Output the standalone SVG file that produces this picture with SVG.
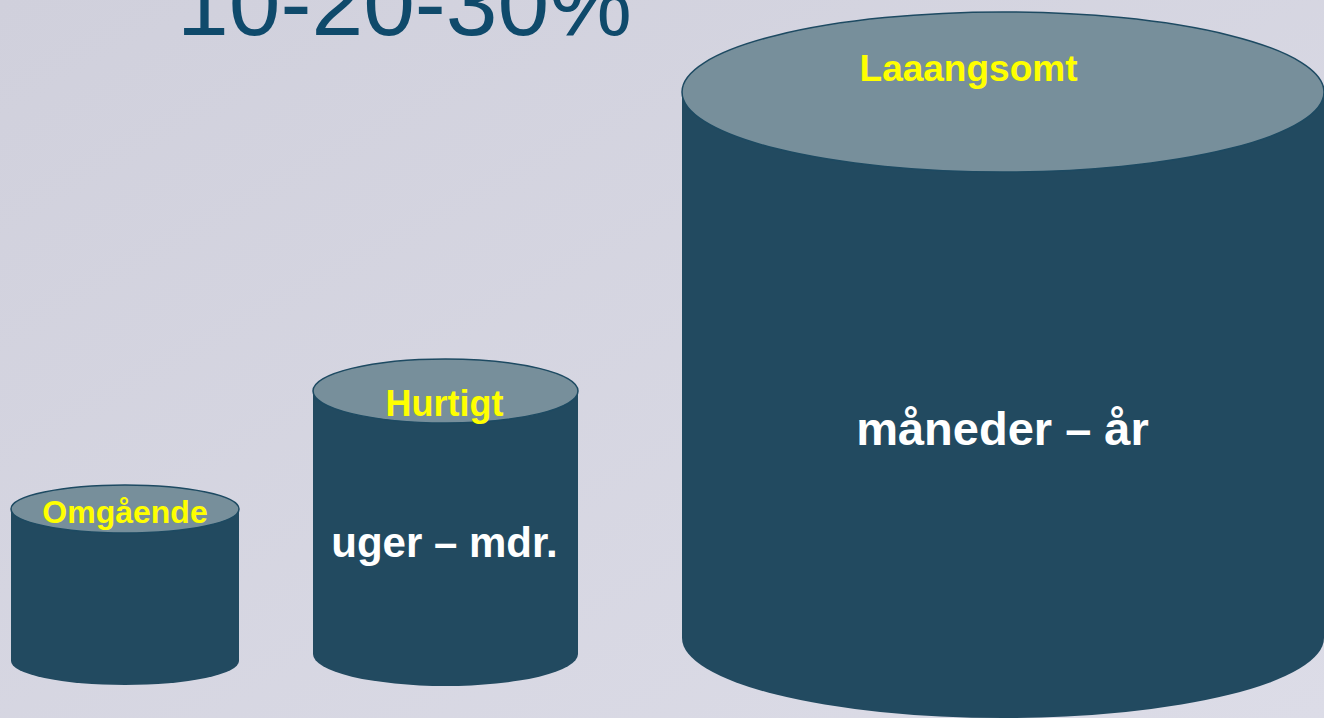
<svg xmlns="http://www.w3.org/2000/svg" width="1324" height="718" viewBox="0 0 1324 718">
<defs>
<linearGradient id="bg" x1="0" y1="0" x2="1" y2="1">
<stop offset="0" stop-color="#d0d0dc"/>
<stop offset="1" stop-color="#dcdce7"/>
</linearGradient>
</defs>
<style>
.body{fill:#224a60;}
.top{fill:#778f9b;stroke:#1d4a62;stroke-width:1.5;}
.lbl{font-family:"Liberation Sans",Arial,sans-serif;font-weight:bold;fill:#ffff00;text-anchor:middle;}
.txt{font-family:"Liberation Sans",Arial,sans-serif;font-weight:bold;fill:#ffffff;text-anchor:middle;}
.title{font-family:"Liberation Sans",Arial,sans-serif;fill:#0f4a6b;}
</style>
<rect width="1324" height="718" fill="url(#bg)"/>
<text class="title" x="177" y="35" font-size="93">10-20-30%</text>
<g id="omgaaende">
<path class="body" d="M11,509 L11,661 A114,24 0 0 0 239,661 L239,509 Z"/>
<ellipse class="top" cx="125" cy="509" rx="114" ry="24"/>
<text class="lbl" x="125" y="523" font-size="32">Omgående</text>
</g>
<g id="hurtigt">
<path class="body" d="M313,391 L313,654 A132.5,32 0 0 0 578,654 L578,391 Z"/>
<ellipse class="top" cx="445.5" cy="391" rx="132.5" ry="32"/>
<text class="lbl" x="444.5" y="416" font-size="36">Hurtigt</text>
<text class="txt" x="444.5" y="557" font-size="42">uger – mdr.</text>
</g>
<g id="laaangsomt">
<path class="body" d="M682,92 L682,638 A321,80 0 0 0 1324,638 L1324,92 Z"/>
<ellipse class="top" cx="1003" cy="92" rx="321" ry="80"/>
<text class="lbl" x="968.5" y="81" font-size="37">Laaangsomt</text>
<text class="txt" x="1002.5" y="445" font-size="47">måneder – år</text>
</g>
<g id="connectors"/>
</svg>
